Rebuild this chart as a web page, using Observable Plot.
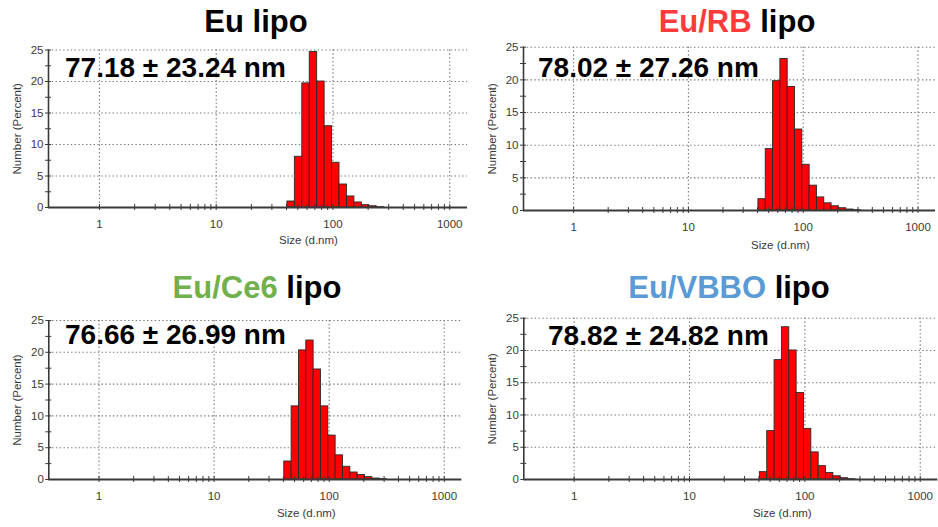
<!DOCTYPE html>
<html><head><meta charset="utf-8">
<script src="https://cdn.jsdelivr.net/npm/d3@7"></script>
<script src="https://cdn.jsdelivr.net/npm/@observablehq/plot@0.6"></script>
<style>
body{margin:0;background:#fff;}
#wrap{position:relative;width:938px;height:527px;overflow:hidden;font-family:"Liberation Sans",Arial,sans-serif;background:#fff;}
#wrap svg{position:absolute;}
.title{position:absolute;width:400px;text-align:center;font-weight:bold;font-size:31px;line-height:31px;color:#000;white-space:nowrap;}
.note{position:absolute;font-weight:bold;font-size:28px;line-height:28px;color:#000;white-space:nowrap;}
</style></head><body><div id="wrap"></div>
<script>
// ---- data ----
const sizes = [43.82, 50.75, 58.77, 68.06, 78.82, 91.28, 105.7, 122.4, 141.8, 164.2, 190.1, 220.2, 255.0, 295.3];
const euLipo     = [0.95, 8.05, 19.7, 24.7, 20.0, 12.9, 7.1, 3.65, 1.75, 0.8, 0.37, 0.2, 0.05, 0];
const euRbLipo   = [1.73, 9.4, 19.8, 23.2, 18.9, 12.4, 7.0, 3.8, 2.0, 1.1, 0.65, 0.35, 0.15, 0.05];
const euCe6Lipo  = [2.83, 11.5, 20.3, 21.85, 17.3, 11.5, 6.9, 3.8, 2.0, 1.1, 0.7, 0.37, 0.15, 0.05];
const euVbboLipo = [1.14, 7.5, 18.5, 23.6, 20.0, 13.4, 7.85, 4.2, 2.07, 1.0, 0.5, 0.2, 0.05, 0];
const seriesValues = [euLipo, euRbLipo, euCe6Lipo, euVbboLipo];
const titlePrefixes = ["Eu", "Eu/RB", "Eu/Ce6", "Eu/VBBO"];
const titleSuffix = "lipo";
const meanLabels = ["77.18 ± 23.24 nm", "78.02 ± 27.26 nm", "76.66 ± 26.99 nm", "78.82 ± 24.82 nm"];
const xTickValues = [1, 10, 100, 1000];
const xMinorTicks = [1,2,3,4,5,6,7,8,9,10,20,30,40,50,60,70,80,90,100,200,300,400,500,600,700,800,900,1000];
const yTickValues = [0, 5, 10, 15, 20, 25];
const yMinorTicks = [0, 2.5, 5, 7.5, 10, 12.5, 15, 17.5, 20, 22.5, 25];
const xDomain = [0.366, 1420];
const yDomain = [0, 25];
const xLabel = "Size (d.nm)";
const yLabel = "Number (Percent)";

// ---- layout (pixels) ----
const titleColors = ["#000000", "#ff3b3b", "#72b04d", "#5b9bd5"];
const layout = [
  {left:0,   top:0,   w:470, h:262, ml:48,   mr:3,   mt:49.5, mb:55, xl:50.5, xd:36,   titleX:256, titleB:32,  noteX:65,  noteB:78},
  {left:470, top:0,   w:468, h:262, ml:53,   mr:3,   mt:46.7, mb:52, xl:51,   xd:38,   titleX:737, titleB:32.3, noteX:538, noteB:77.3},
  {left:0,   top:264, w:470, h:263, ml:48.3, mr:8.7, mt:56,   mb:48, xl:51,   xd:37.5, titleX:257, titleB:298.3, noteX:65, noteB:345},
  {left:470, top:264, w:468, h:263, ml:53.3, mr:0.7, mt:53.7, mb:48, xl:51.5, xd:37.5, titleX:729, titleB:298.3, noteX:548, noteB:346}
];

const ratio = Math.sqrt(sizes[1] / sizes[0]);
const wrap = document.getElementById("wrap");
const font = '"Liberation Sans", Arial, sans-serif';

seriesValues.forEach((vals, i) => {
  const L = layout[i];
  const table = sizes.map((s, j) => ({size: s, value: vals[j]})).filter(d => d.value > 0);
  const chart = Plot.plot({
    width: L.w, height: L.h,
    marginLeft: L.ml, marginRight: L.mr, marginTop: L.mt, marginBottom: L.mb,
    style: {fontFamily: font, fontSize: "11px", color: "#3a3a3a", background: "transparent", overflow: "visible"},
    x: {type: "log", domain: xDomain, label: null},
    y: {domain: yDomain, label: null},
    marks: [
      Plot.gridX(xTickValues, {stroke: "#777", strokeOpacity: 1, strokeWidth: 1.1, strokeDasharray: "1.4,2.4"}),
      Plot.gridY(yTickValues.filter(v => v > 0), {stroke: "#777", strokeOpacity: 1, strokeWidth: 1.1, strokeDasharray: "1.4,2.4"}),
      Plot.rectY(table, {x1: d => d.size / ratio, x2: d => d.size * ratio, y: "value", fill: "#ff0000", stroke: "#2a2a2a", strokeWidth: 0.9}),
      Plot.ruleY([yDomain[0]], {stroke: "#3a3a3a", strokeWidth: 1.8}),
      Plot.ruleX([xDomain[0]], {stroke: "#3a3a3a", strokeWidth: 1.6}),
      Plot.axisX({ticks: xMinorTicks, tickSize: 6, dy: -3, tickFormat: () => "", label: null, stroke: "#3a3a3a"}),
      Plot.axisX({ticks: xTickValues, tickSize: 0, tickPadding: 12, tickFormat: d => String(d), label: null, fontSize: 11.5}),
      Plot.axisY({ticks: yMinorTicks, tickSize: 6, dx: 3, tickFormat: () => "", label: null, stroke: "#3a3a3a"}),
      Plot.axisY({ticks: yTickValues, tickSize: 0, tickPadding: 5, label: null, fontSize: 11.5}),
      Plot.text([xLabel], {text: d => d, frameAnchor: "bottom", textAnchor: "middle", dx: L.xl, dy: L.xd, fontSize: 11.5, fill: "#3a3a3a"}),
      Plot.text([yLabel], {text: d => d, frameAnchor: "left", textAnchor: "middle", rotate: -90, dx: -31, fontSize: 11.5, fill: "#3a3a3a"})
    ]
  });
  chart.style.left = L.left + "px";
  chart.style.top = L.top + "px";
  wrap.appendChild(chart);

  const t = document.createElement("div");
  t.className = "title";
  t.style.left = (L.titleX - 200) + "px";
  t.style.top = (L.titleB - 26.2) + "px";
  const s1 = document.createElement("span");
  s1.textContent = titlePrefixes[i];
  s1.style.color = titleColors[i];
  t.appendChild(s1);
  t.appendChild(document.createTextNode(" " + titleSuffix));
  wrap.appendChild(t);

  const n = document.createElement("div");
  n.className = "note";
  n.style.left = L.noteX + "px";
  n.style.top = (L.noteB - 23.7) + "px";
  n.textContent = meanLabels[i];
  wrap.appendChild(n);
});
</script></body></html>
